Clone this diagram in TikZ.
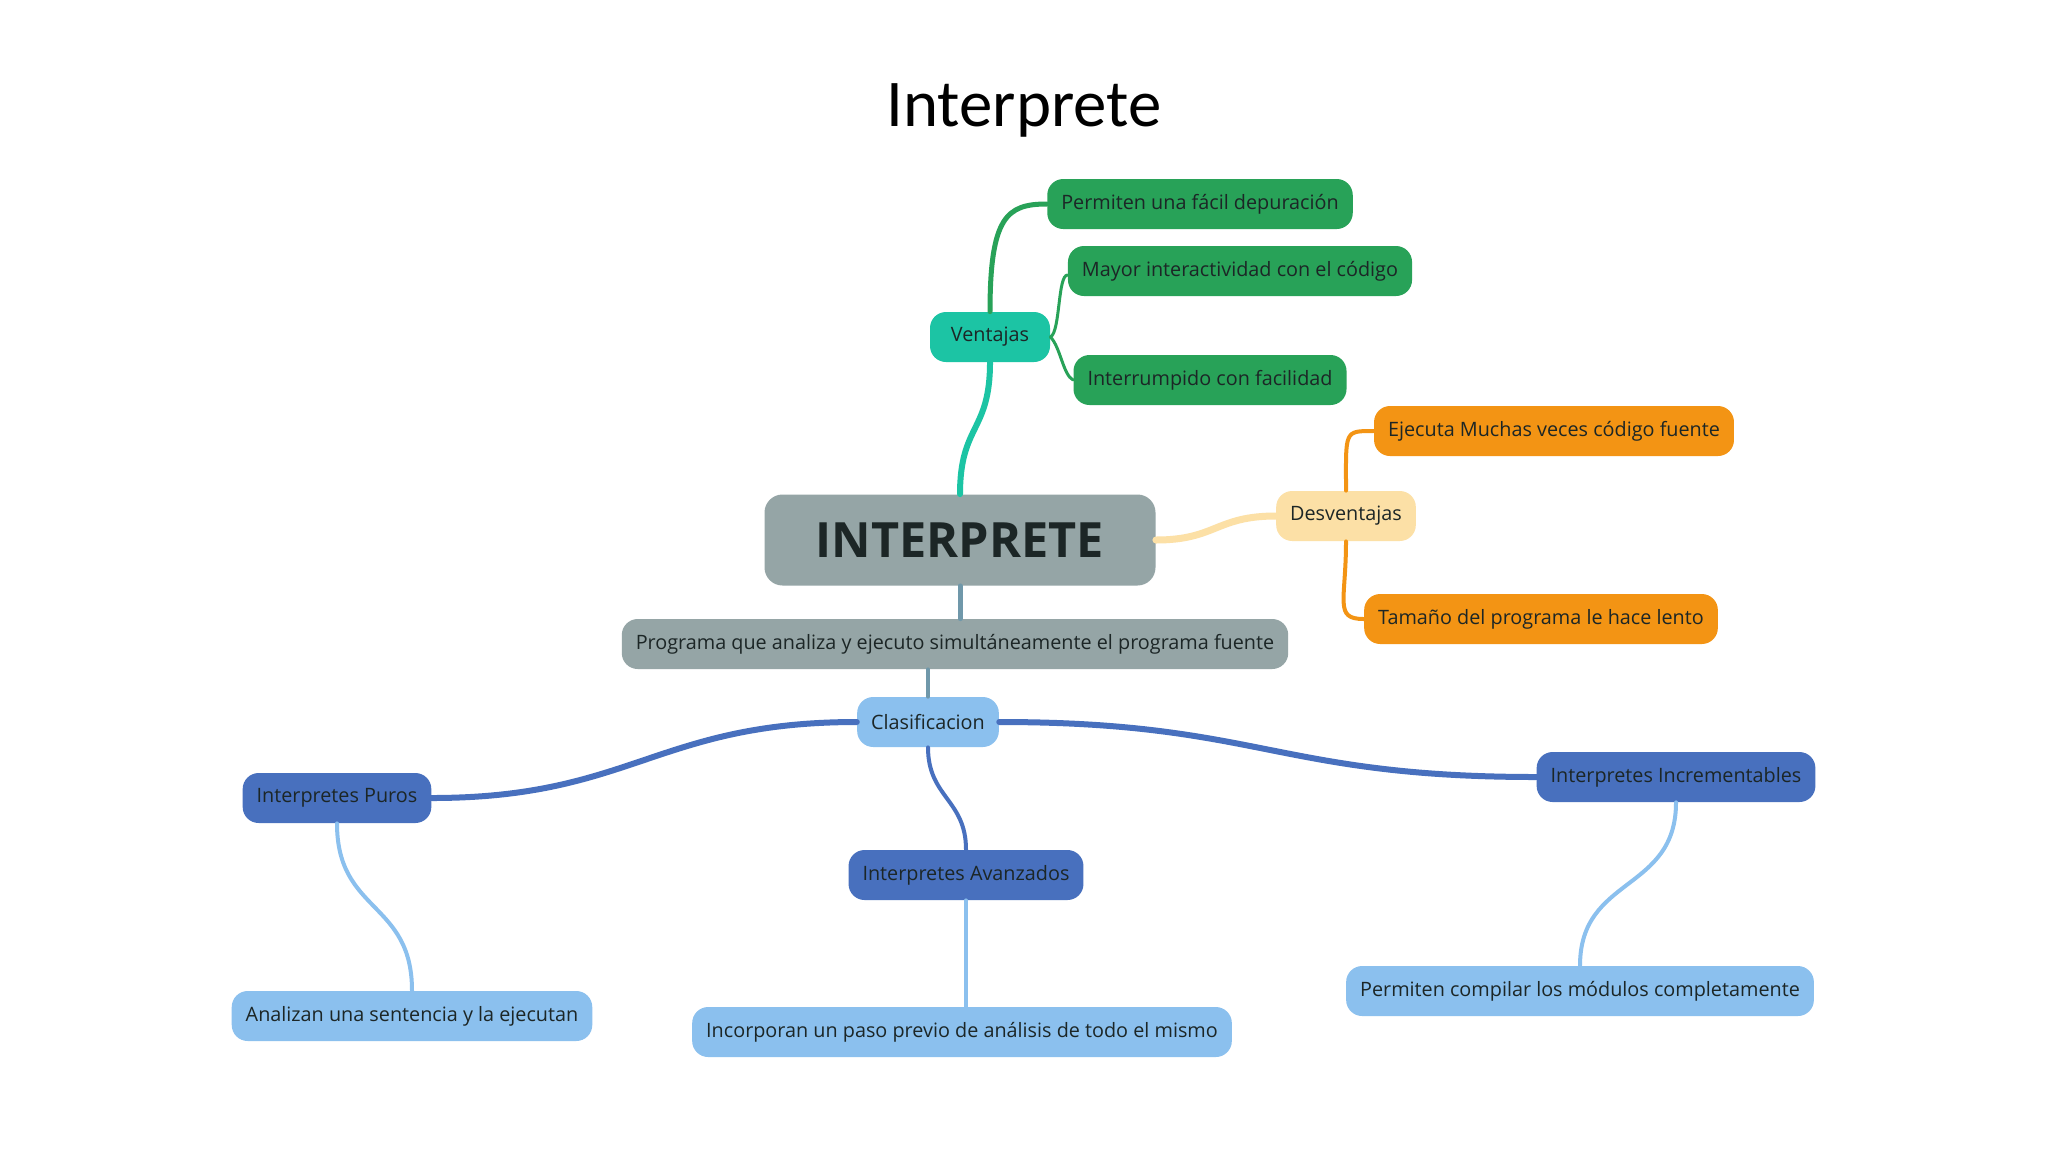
\documentclass[tikz,border=0pt]{standalone}
\usepackage{fontspec}
\setmainfont{Open Sans}
\newfontfamily\titlefont{Carlito}
\usepackage{xcolor}
\definecolor{central}{RGB}{149,165,166}
\definecolor{ventajas}{RGB}{28,196,164}
\definecolor{ventaja}{RGB}{40,162,88}
\definecolor{desventajas}{RGB}{252,224,166}
\definecolor{desventaja}{RGB}{243,148,20}
\definecolor{clase}{RGB}{139,192,238}
\definecolor{tipo}{RGB}{72,112,190}
\definecolor{ink}{RGB}{28,38,38}
\definecolor{rama}{RGB}{112,152,170}
\tikzstyle{caja}=[rounded corners=8pt, minimum height=25pt, inner xsep=7pt, text=ink, font=\fontsize{9.9}{12}\selectfont]
\tikzstyle{central}=[caja, fill=central, rounded corners=9pt, minimum width=195.5pt, minimum height=45.5pt, font=\fontsize{24.3}{30}\selectfont\bfseries]
\tikzstyle{ventajas}=[fill=ventajas]
\tikzstyle{ventaja}=[fill=ventaja]
\tikzstyle{desventajas}=[fill=desventajas]
\tikzstyle{desventaja}=[fill=desventaja]
\tikzstyle{clase}=[fill=clase]
\tikzstyle{tipo}=[fill=tipo]
\tikzstyle{rama}=[line cap=round]

\begin{document}
\begin{tikzpicture}[x=0.5pt,y=-0.5pt]
  \fill[white] (0,0) rectangle (2048,1152);
  \useasboundingbox (0,0) rectangle (2048,1152);
  \draw (1024,110) node[font=\titlefont\fontsize{33.4}{40}\selectfont] (titulo) {Interprete};

  \draw (960,540) node[central] (INT) {INTERPRETE};
  \draw (955,644) node[caja,fill=central] (PRO) {Programa que analiza y ejecuto simultáneamente el programa fuente};

  \draw (990,337) node[caja,ventajas,minimum width=60pt] (VEN) {Ventajas};
  \draw (1200,204) node[caja,ventaja] (V1) {Permiten una fácil depuración};
  \draw (1240,271) node[caja,ventaja] (V2) {Mayor interactividad con el código};
  \draw (1210,380) node[caja,ventaja] (V3) {Interrumpido con facilidad};

  \draw (1346,516) node[caja,desventajas] (DES) {Desventajas};
  \draw (1554,431) node[caja,desventaja] (D1) {Ejecuta Muchas veces código fuente};
  \draw (1541,619) node[caja,desventaja] (D2) {Tamaño del programa le hace lento};

  \draw (928,722) node[caja,clase] (CLA) {Clasificacion};
  \draw (337,798) node[caja,tipo] (T1) {Interpretes Puros};
  \draw (966,875) node[caja,tipo] (T2) {Interpretes Avanzados};
  \draw (1676,777) node[caja,tipo] (T3) {Interpretes Incrementables};
  \draw (412,1016) node[caja,clase] (C1) {Analizan una sentencia y la ejecutan};
  \draw (962,1032) node[caja,clase] (C2) {Incorporan un paso previo de análisis de todo el mismo};
  \draw (1580,991) node[caja,clase] (C3) {Permiten compilar los módulos completamente};

  %% Ventajas
  \draw[rama,line width=3pt,color=ventajas] (INT.north) .. controls +(0,-70) and +(0,70) .. (VEN.south);
  \draw[rama,line width=2.5pt,color=ventaja] (VEN.north) .. controls +(0,-95) and +(-40,0) .. (V1.west);
  \draw[rama,line width=1.5pt,color=ventaja] (VEN.east) .. controls +(10,-5) and +(-10,0) .. ([yshift=-2pt]V2.west);
  \draw[rama,line width=1.5pt,color=ventaja] (VEN.east) .. controls +(10,10) and +(-10,-5) .. (V3.west);

  %% Desventajas
  \draw[rama,line width=3.5pt,color=desventajas] (INT.east) .. controls +(60,0) and +(-60,0) .. (DES.west);
  \draw[rama,line width=2pt,color=desventaja] (DES.north) .. controls +(0,-60) and +(-30,0) .. (D1.west);
  \draw[rama,line width=2pt,color=desventaja] (DES.south) .. controls +(0,60) and +(-30,0) .. (D2.west);

  %% Clasificacion
  \draw[rama,line width=2.5pt,color=rama] (INT.south) -- (PRO.north -| INT.south);
  \draw[rama,line width=2pt,color=rama] (PRO.south -| CLA.north) -- (CLA.north);
  \draw[rama,line width=3pt,color=tipo] (CLA.west) .. controls +(-200,0) and +(200,0) .. (T1.east);
  \draw[rama,line width=3pt,color=tipo] (CLA.east) .. controls +(260,0) and +(-260,0) .. (T3.west);
  \draw[rama,line width=2pt,color=tipo] (CLA.south) .. controls +(0,50) and +(0,-50) .. (T2.north);
  \draw[rama,line width=2pt,color=clase] (T1.south) .. controls +(0,90) and +(0,-90) .. (C1.north);
  \draw[rama,line width=2pt,color=clase] (T2.south) -- (C2.north -| T2.south);
  \draw[rama,line width=2pt,color=clase] (T3.south) .. controls +(0,90) and +(0,-90) .. (C3.north);
\end{tikzpicture}
\end{document}
